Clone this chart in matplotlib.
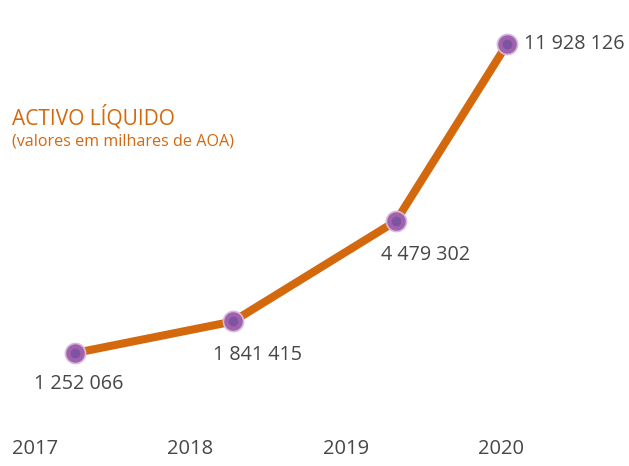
import matplotlib.pyplot as plt
import numpy as np

years = ["2017", "2018", "2019", "2020"]
values = [1252066, 1841415, 4479302, 11928126]
labels = ["1 252 066", "1 841 415", "4 479 302", "11 928 126"]

c_line = "#D4680C"
c_text = "#474747"
c_ball = "#A062AC"

plt.rcParams['font.family'] = ['Open Sans', 'DejaVu Sans']

fig = plt.figure(figsize=(6.29, 4.66), dpi=100)
ax = fig.add_axes([0, 0, 1, 1])
ax.set_yscale('function', functions=(np.sqrt, np.square))

# points sit a bit right of their year label
shift = [0.26, 0.275, 0.325, 0.04]
x = np.arange(len(years)) + np.array(shift)

ax.plot(x, values, color=c_line, linewidth=5.8, solid_capstyle='round', zorder=2)
ax.plot(x, values, linestyle='none', marker='o', markersize=14.5, markerfacecolor=c_ball,
        markeredgecolor="#D9B9DF", markeredgewidth=1.2, zorder=3)
ax.plot(x, values, linestyle='none', marker='o', markersize=7, markerfacecolor="#6F4D9E",
        markeredgewidth=0, alpha=0.7, zorder=4)

# label offsets in points (dx, dy)
offs = [(-30, -22), (-14.5, -24.5), (-11, -24.5), (12.5, 0)]
for xi, v, s, (dx, dy) in zip(x, values, labels, offs):
    ax.annotate(s, (xi, v), xytext=(dx, dy), textcoords='offset points',
                ha='left', va='center', fontsize=14.2, color=c_text)

for i, y in enumerate(years):
    ax.text(i, 0.036, y, transform=ax.get_xaxis_transform(), ha='center', va='center',
            fontsize=14.5, color=c_text)

ax.text(0.019, 0.749, "ACTIVO LÍQUIDO", transform=ax.transAxes, fontsize=15,
        color=c_line, ha='left', va='center')
ax.text(0.019, 0.697, "(valores em milhares de AOA)", transform=ax.transAxes, fontsize=11.6,
        color=c_line, ha='left', va='center')

ax.set_xlim(-0.2254, 3.825)
ax.set_ylim(69987, 14340000)
ax.axis('off')

fig.savefig("out.png", dpi=100)
